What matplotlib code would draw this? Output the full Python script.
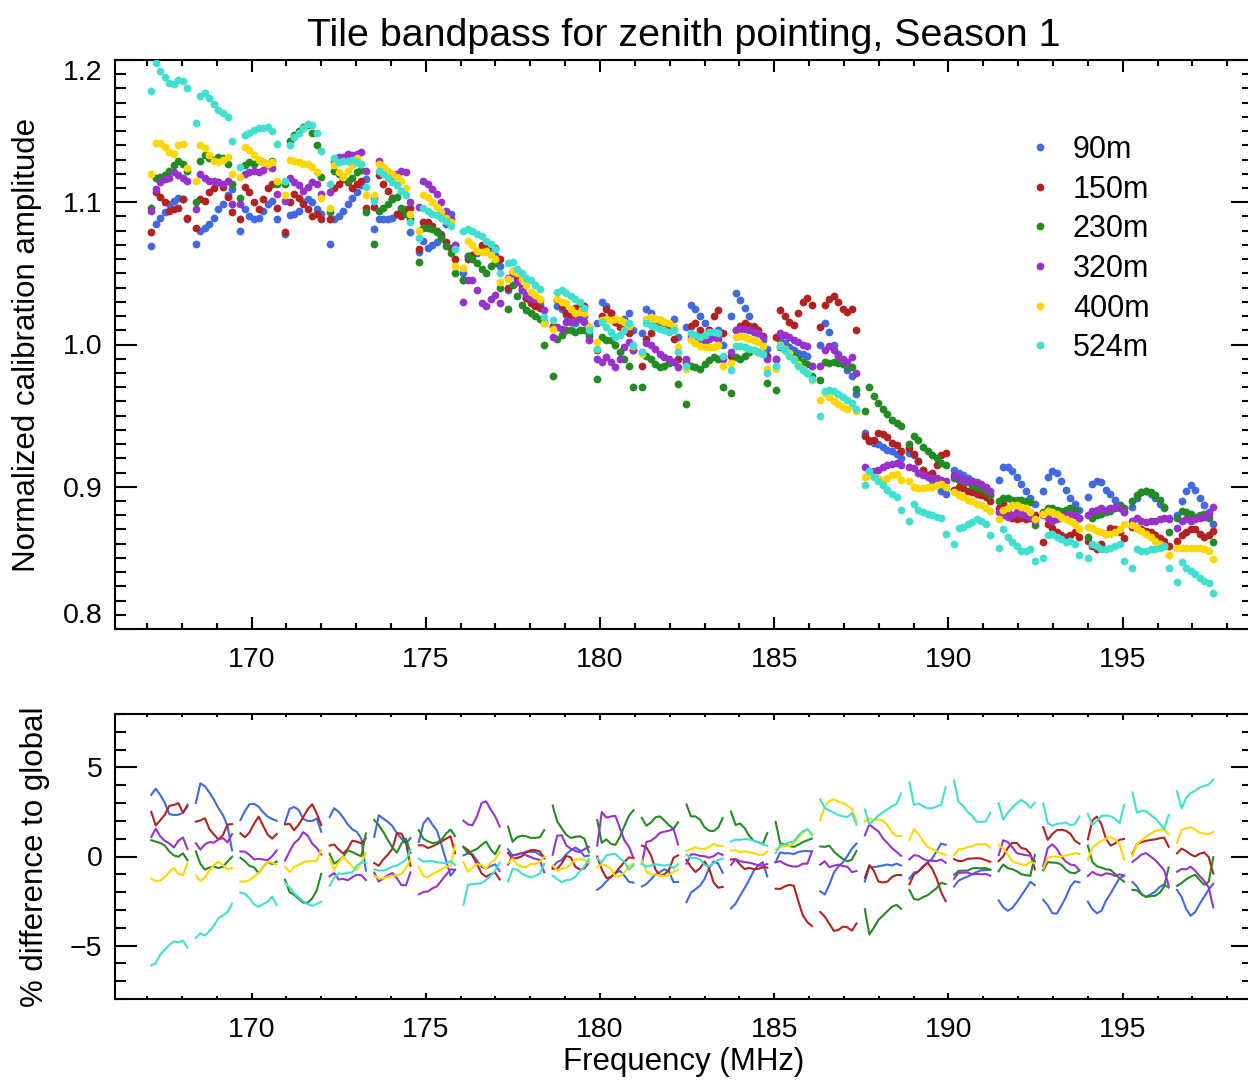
import numpy as np
import matplotlib
matplotlib.use("Agg")
import matplotlib.pyplot as plt
from matplotlib.ticker import MultipleLocator

plt.rcParams['font.family'] = ['Liberation Sans', 'DejaVu Sans']

# ---------------- data ----------------
labels = ["90m", "150m", "230m", "320m", "400m", "524m"]
colors = ["royalblue", "firebrick", "forestgreen", "darkorchid", "gold", "turquoise"]

# coarse-channel centres (MHz) and fine-channel offsets within a coarse channel (MHz)
coarse_centres = [167.64, 168.92, 170.20, 171.48, 172.76, 174.04, 175.32, 176.60,
                  177.88, 179.16, 180.44, 181.72, 183.00, 184.28, 185.56, 186.84,
                  188.12, 189.40, 190.68, 191.96, 193.24, 194.52, 195.80, 197.08]
fine_offsets = [-0.52, -0.39, -0.26, -0.13, 0.0, 0.13, 0.26, 0.39, 0.52]

amp_90m = [
    [1.069, 1.085, 1.089, 1.093, 1.099, 1.101, 1.103, 1.102, 1.088],
    [1.071, 1.080, 1.082, 1.085, 1.089, 1.095, 1.099, 1.105, 1.109],
    [1.080, 1.095, 1.090, 1.088, 1.089, 1.094, 1.099, 1.101, 1.088],
    [1.078, 1.091, 1.092, 1.094, 1.100, 1.102, 1.100, 1.095, 1.092],
    [1.071, 1.088, 1.090, 1.094, 1.099, 1.103, 1.107, 1.112, 1.116],
    [1.081, 1.088, 1.088, 1.088, 1.089, 1.092, 1.093, 1.095, 1.079],
    [1.065, 1.073, 1.068, 1.070, 1.072, 1.078, 1.085, 1.092, 1.070],
    [1.050, 1.062, 1.062, 1.064, 1.066, 1.066, 1.065, 1.063, 1.055],
    [1.038, 1.050, 1.044, 1.038, 1.033, 1.030, 1.028, 1.028, 1.015],
    [1.012, 1.027, 1.025, 1.021, 1.017, 1.015, 1.018, 1.020, 1.008],
    [1.015, 1.030, 1.027, 1.022, 1.016, 1.014, 1.018, 1.022, 1.010],
    [1.008, 1.025, 1.022, 1.018, 1.015, 1.012, 1.013, 1.018, 1.005],
    [1.012, 1.028, 1.025, 1.020, 1.015, 1.010, 1.008, 1.010, 1.000],
    [1.020, 1.036, 1.031, 1.026, 1.020, 1.013, 1.008, 1.003, 0.997],
    [0.990, 1.003, 1.001, 0.998, 0.996, 0.994, 0.993, 0.992, 0.985],
    [1.000, 1.015, 1.009, 1.000, 0.993, 0.988, 0.982, 0.978, 0.965],
    [0.938, 0.933, 0.931, 0.930, 0.928, 0.926, 0.925, 0.923, 0.920],
    [0.924, 0.922, 0.918, 0.912, 0.908, 0.905, 0.901, 0.897, 0.895],
    [0.912, 0.910, 0.908, 0.906, 0.904, 0.902, 0.900, 0.898, 0.894],
    [0.905, 0.914, 0.914, 0.911, 0.907, 0.902, 0.897, 0.892, 0.888],
    [0.897, 0.907, 0.911, 0.910, 0.904, 0.898, 0.892, 0.888, 0.884],
    [0.893, 0.902, 0.904, 0.903, 0.898, 0.895, 0.891, 0.887, 0.882],
    [0.886, 0.892, 0.896, 0.897, 0.895, 0.892, 0.888, 0.885, 0.878],
    [0.880, 0.890, 0.897, 0.901, 0.898, 0.892, 0.887, 0.882, 0.874],
]
amp_150m = [
    [1.079, 1.107, 1.104, 1.100, 1.094, 1.095, 1.096, 1.102, 1.089],
    [1.082, 1.102, 1.101, 1.107, 1.110, 1.114, 1.111, 1.104, 1.093],
    [1.088, 1.111, 1.107, 1.100, 1.095, 1.102, 1.110, 1.113, 1.096],
    [1.079, 1.100, 1.106, 1.103, 1.099, 1.095, 1.090, 1.092, 1.088],
    [1.088, 1.110, 1.113, 1.116, 1.114, 1.110, 1.113, 1.115, 1.096],
    [1.097, 1.119, 1.113, 1.108, 1.103, 1.092, 1.090, 1.094, 1.096],
    [1.067, 1.086, 1.086, 1.083, 1.080, 1.076, 1.072, 1.068, 1.060],
    [1.045, 1.060, 1.063, 1.066, 1.070, 1.071, 1.070, 1.068, 1.060],
    [1.040, 1.052, 1.046, 1.040, 1.033, 1.029, 1.027, 1.026, 1.016],
    [1.013, 1.031, 1.027, 1.022, 1.021, 1.026, 1.029, 1.027, 1.012],
    [0.996, 1.020, 1.025, 1.022, 1.016, 1.012, 1.010, 1.008, 0.996],
    [0.985, 1.004, 1.008, 1.015, 1.017, 1.015, 1.012, 1.004, 0.990],
    [0.988, 1.013, 1.015, 1.010, 1.005, 1.010, 1.020, 1.024, 1.008],
    [0.992, 1.010, 1.013, 1.015, 1.013, 1.012, 1.010, 1.006, 0.992],
    [1.005, 1.024, 1.020, 1.016, 1.014, 1.022, 1.030, 1.033, 1.028],
    [1.012, 1.028, 1.032, 1.034, 1.030, 1.025, 1.023, 1.025, 1.010],
    [0.936, 0.932, 0.933, 0.938, 0.937, 0.935, 0.931, 0.929, 0.925],
    [0.927, 0.923, 0.918, 0.912, 0.908, 0.910, 0.915, 0.922, 0.924],
    [0.898, 0.900, 0.899, 0.897, 0.896, 0.895, 0.894, 0.893, 0.890],
    [0.885, 0.888, 0.882, 0.878, 0.877, 0.878, 0.877, 0.878, 0.880],
    [0.861, 0.874, 0.871, 0.868, 0.866, 0.865, 0.866, 0.868, 0.865],
    [0.862, 0.858, 0.856, 0.860, 0.867, 0.871, 0.870, 0.868, 0.864],
    [0.872, 0.871, 0.870, 0.869, 0.868, 0.866, 0.864, 0.862, 0.858],
    [0.862, 0.866, 0.868, 0.870, 0.870, 0.867, 0.865, 0.866, 0.869],
]
amp_230m = [
    [1.096, 1.117, 1.118, 1.119, 1.122, 1.126, 1.129, 1.127, 1.122],
    [1.100, 1.129, 1.133, 1.131, 1.130, 1.132, 1.131, 1.127, 1.113],
    [1.103, 1.126, 1.128, 1.127, 1.130, 1.128, 1.127, 1.129, 1.113],
    [1.113, 1.143, 1.147, 1.150, 1.153, 1.154, 1.149, 1.140, 1.118],
    [1.093, 1.122, 1.120, 1.118, 1.115, 1.117, 1.121, 1.123, 1.093],
    [1.071, 1.094, 1.096, 1.099, 1.102, 1.104, 1.096, 1.092, 1.088],
    [1.058, 1.082, 1.082, 1.081, 1.079, 1.075, 1.069, 1.064, 1.050],
    [1.045, 1.062, 1.060, 1.057, 1.053, 1.050, 1.055, 1.057, 1.040],
    [1.025, 1.042, 1.034, 1.028, 1.024, 1.022, 1.020, 1.018, 1.000],
    [0.978, 1.004, 1.007, 1.010, 1.010, 1.009, 1.010, 1.010, 1.006],
    [0.976, 1.005, 1.003, 1.003, 1.000, 0.995, 0.990, 0.985, 0.970],
    [0.970, 0.992, 0.990, 0.986, 0.984, 0.985, 0.987, 0.988, 0.972],
    [0.958, 0.985, 0.984, 0.983, 0.986, 0.989, 0.991, 0.990, 0.970],
    [0.966, 0.991, 0.990, 0.992, 0.995, 0.996, 0.995, 0.993, 0.973],
    [0.968, 0.998, 0.996, 0.994, 0.992, 0.990, 0.988, 0.986, 0.978],
    [0.975, 0.988, 0.987, 0.988, 0.987, 0.986, 0.985, 0.984, 0.969],
    [0.953, 0.970, 0.964, 0.959, 0.955, 0.951, 0.947, 0.945, 0.943],
    [0.930, 0.936, 0.933, 0.928, 0.925, 0.922, 0.920, 0.917, 0.915],
    [0.906, 0.905, 0.904, 0.903, 0.901, 0.900, 0.899, 0.897, 0.894],
    [0.890, 0.892, 0.892, 0.891, 0.891, 0.891, 0.890, 0.889, 0.873],
    [0.882, 0.885, 0.885, 0.884, 0.883, 0.884, 0.885, 0.884, 0.878],
    [0.865, 0.878, 0.880, 0.881, 0.882, 0.883, 0.885, 0.887, 0.885],
    [0.890, 0.894, 0.896, 0.897, 0.896, 0.894, 0.891, 0.886, 0.868],
    [0.878, 0.883, 0.882, 0.881, 0.879, 0.880, 0.881, 0.878, 0.861],
]
amp_320m = [
    [1.094, 1.109, 1.114, 1.116, 1.117, 1.121, 1.119, 1.117, 1.115],
    [1.095, 1.120, 1.117, 1.115, 1.115, 1.114, 1.113, 1.115, 1.099],
    [1.099, 1.120, 1.121, 1.122, 1.121, 1.123, 1.126, 1.124, 1.106],
    [1.101, 1.117, 1.114, 1.112, 1.108, 1.111, 1.114, 1.113, 1.106],
    [1.107, 1.128, 1.132, 1.132, 1.134, 1.133, 1.134, 1.135, 1.122],
    [1.103, 1.129, 1.125, 1.121, 1.118, 1.120, 1.122, 1.121, 1.100],
    [1.097, 1.115, 1.113, 1.109, 1.106, 1.100, 1.094, 1.088, 1.070],
    [1.030, 1.045, 1.045, 1.038, 1.029, 1.027, 1.032, 1.035, 1.029],
    [1.047, 1.050, 1.044, 1.038, 1.035, 1.033, 1.032, 1.031, 1.024],
    [1.005, 1.012, 1.011, 1.016, 1.016, 1.017, 1.019, 1.016, 1.003],
    [0.990, 0.988, 0.991, 0.988, 0.984, 0.990, 0.998, 1.002, 0.996],
    [0.995, 1.001, 1.000, 0.997, 0.993, 0.991, 0.990, 0.988, 0.984],
    [0.990, 1.006, 1.005, 1.003, 1.002, 1.004, 1.005, 1.004, 0.990],
    [0.995, 1.010, 1.011, 1.011, 1.010, 1.009, 1.008, 1.005, 0.990],
    [0.990, 1.008, 1.007, 1.005, 1.003, 1.002, 1.000, 0.999, 0.985],
    [0.985, 0.996, 0.999, 0.996, 0.992, 0.990, 0.988, 0.991, 0.980],
    [0.914, 0.911, 0.911, 0.912, 0.914, 0.915, 0.916, 0.917, 0.915],
    [0.914, 0.913, 0.910, 0.908, 0.907, 0.906, 0.906, 0.905, 0.904],
    [0.908, 0.906, 0.905, 0.904, 0.904, 0.903, 0.902, 0.900, 0.897],
    [0.882, 0.880, 0.879, 0.880, 0.882, 0.881, 0.880, 0.879, 0.876],
    [0.880, 0.878, 0.876, 0.877, 0.879, 0.880, 0.881, 0.880, 0.878],
    [0.880, 0.883, 0.884, 0.885, 0.884, 0.885, 0.886, 0.885, 0.882],
    [0.876, 0.878, 0.876, 0.875, 0.876, 0.876, 0.877, 0.878, 0.877],
    [0.871, 0.876, 0.877, 0.876, 0.877, 0.878, 0.879, 0.881, 0.886],
]
amp_400m = [
    [1.120, 1.142, 1.142, 1.139, 1.135, 1.134, 1.140, 1.141, 1.124],
    [1.115, 1.140, 1.138, 1.133, 1.129, 1.128, 1.130, 1.132, 1.120],
    [1.118, 1.139, 1.137, 1.133, 1.130, 1.128, 1.127, 1.128, 1.115],
    [1.105, 1.130, 1.129, 1.128, 1.127, 1.127, 1.125, 1.121, 1.103],
    [1.096, 1.126, 1.121, 1.118, 1.122, 1.126, 1.131, 1.127, 1.105],
    [1.105, 1.127, 1.125, 1.122, 1.120, 1.118, 1.115, 1.110, 1.092],
    [1.080, 1.105, 1.104, 1.100, 1.097, 1.093, 1.089, 1.086, 1.055],
    [1.054, 1.073, 1.070, 1.066, 1.065, 1.066, 1.063, 1.060, 1.044],
    [1.046, 1.052, 1.050, 1.046, 1.042, 1.037, 1.035, 1.032, 1.015],
    [1.011, 1.032, 1.030, 1.029, 1.025, 1.022, 1.023, 1.022, 1.012],
    [1.002, 1.017, 1.018, 1.017, 1.018, 1.017, 1.016, 1.013, 0.999],
    [0.993, 1.018, 1.019, 1.018, 1.017, 1.016, 1.015, 1.012, 0.998],
    [0.983, 1.003, 1.001, 0.999, 0.998, 0.998, 0.998, 1.000, 0.985],
    [0.987, 1.005, 1.006, 1.005, 1.004, 1.003, 1.002, 0.999, 0.983],
    [0.983, 1.000, 0.997, 0.994, 0.990, 0.986, 0.983, 0.980, 0.975],
    [0.961, 0.966, 0.963, 0.960, 0.958, 0.956, 0.955, 0.957, 0.953],
    [0.907, 0.908, 0.907, 0.906, 0.905, 0.906, 0.908, 0.909, 0.905],
    [0.904, 0.900, 0.899, 0.899, 0.900, 0.900, 0.901, 0.902, 0.900],
    [0.896, 0.894, 0.893, 0.891, 0.890, 0.888, 0.887, 0.885, 0.883],
    [0.877, 0.884, 0.885, 0.887, 0.887, 0.886, 0.885, 0.882, 0.877],
    [0.881, 0.883, 0.882, 0.881, 0.879, 0.877, 0.876, 0.874, 0.870],
    [0.872, 0.871, 0.869, 0.868, 0.867, 0.867, 0.868, 0.870, 0.874],
    [0.873, 0.871, 0.869, 0.867, 0.865, 0.862, 0.860, 0.858, 0.852],
    [0.857, 0.857, 0.857, 0.857, 0.857, 0.857, 0.856, 0.855, 0.849],
]
amp_524m = [
    [1.178, 1.198, 1.192, 1.188, 1.184, 1.183, 1.186, 1.185, 1.180],
    [1.156, 1.175, 1.177, 1.173, 1.169, 1.165, 1.163, 1.160, 1.143],
    [1.125, 1.147, 1.149, 1.151, 1.152, 1.152, 1.153, 1.150, 1.141],
    [1.115, 1.140, 1.146, 1.149, 1.152, 1.155, 1.154, 1.149, 1.136],
    [1.113, 1.131, 1.128, 1.129, 1.129, 1.130, 1.128, 1.127, 1.111],
    [1.101, 1.122, 1.120, 1.117, 1.114, 1.112, 1.108, 1.105, 1.086],
    [1.075, 1.096, 1.094, 1.092, 1.091, 1.089, 1.087, 1.083, 1.067],
    [1.080, 1.081, 1.080, 1.078, 1.076, 1.073, 1.071, 1.067, 1.050],
    [1.057, 1.058, 1.053, 1.050, 1.047, 1.045, 1.042, 1.039, 1.019],
    [1.017, 1.037, 1.038, 1.036, 1.034, 1.032, 1.030, 1.026, 1.010],
    [0.997, 1.016, 1.012, 1.009, 1.005, 1.007, 1.010, 1.015, 1.000],
    [0.995, 1.015, 1.014, 1.012, 1.011, 1.010, 1.009, 1.010, 0.995],
    [0.985, 1.008, 1.007, 1.005, 1.007, 1.009, 1.009, 1.008, 0.992],
    [0.982, 0.999, 0.999, 0.998, 0.997, 0.996, 0.995, 0.993, 0.980],
    [0.985, 0.999, 0.996, 0.992, 0.989, 0.985, 0.982, 0.980, 0.976],
    [0.950, 0.967, 0.968, 0.967, 0.965, 0.963, 0.961, 0.959, 0.955],
    [0.901, 0.911, 0.907, 0.904, 0.901, 0.898, 0.895, 0.893, 0.884],
    [0.876, 0.888, 0.884, 0.882, 0.881, 0.880, 0.879, 0.878, 0.867],
    [0.860, 0.871, 0.872, 0.874, 0.875, 0.877, 0.876, 0.874, 0.866],
    [0.857, 0.870, 0.865, 0.861, 0.858, 0.855, 0.855, 0.856, 0.848],
    [0.850, 0.866, 0.867, 0.865, 0.863, 0.861, 0.862, 0.860, 0.852],
    [0.850, 0.860, 0.858, 0.856, 0.856, 0.857, 0.858, 0.860, 0.848],
    [0.843, 0.856, 0.855, 0.855, 0.856, 0.856, 0.857, 0.858, 0.843],
    [0.833, 0.847, 0.843, 0.841, 0.839, 0.836, 0.834, 0.832, 0.825],
]
series = [amp_90m, amp_150m, amp_230m, amp_320m, amp_400m, amp_524m]

xticks = [170, 175, 180, 185, 190, 195]
yticks_top = [0.8, 0.9, 1.0, 1.1, 1.2]
yticks_bot = [-5, 0, 5]

# ---------------- derived arrays ----------------
freq = np.array(coarse_centres)[:, None] + np.array(fine_offsets)[None, :]   # (24, 9)
amps = np.array(series, dtype=float)                                          # (6, 24, 9)
global_bp = amps.mean(axis=0)
pct = (global_bp[None] / amps - 1.0) * 100.0


def with_gaps(a):
    """append a NaN after every coarse channel so lines break between channels"""
    a = np.asarray(a, dtype=float)
    pad = np.full(a.shape[:-1] + (1,), np.nan)
    return np.concatenate([a, pad], axis=-1).reshape(a.shape[:-2] + (-1,))


freq_gap = with_gaps(freq)

# ---------------- figure ----------------
W, H = 1248, 1080
fig = plt.figure(figsize=(W / 100, H / 100), dpi=100)

L, R = 115, 1253
ax1 = fig.add_axes([L / W, 1 - 629 / H, (R - L) / W, (629 - 60) / H])
ax2 = fig.add_axes([L / W, 1 - 999 / H, (R - L) / W, (999 - 714) / H])

MS = 5.6
for vals, c in zip(amps, colors):
    ax1.plot(freq.ravel(), vals.ravel(), 'o', ms=MS, mew=0, color=c, zorder=3)
for vals, c in zip(pct, colors):
    ax2.plot(freq_gap, with_gaps(vals), '-', lw=1.5, color=c, zorder=3)

xlim = (166.08, 198.74)
for ax in (ax1, ax2):
    ax.set_xlim(*xlim)
    ax.set_xticks(xticks)
    ax.xaxis.set_minor_locator(MultipleLocator(1))
    for sp in ax.spines.values():
        sp.set_linewidth(1.5)
    ax.tick_params(which='both', direction='in', top=True, right=True,
                   width=1.5, labelsize=20.5, color='black')

ax1.set_ylim(0.8, 1.2)
ax1.set_yticks(yticks_top)
ax1.set_yticklabels(['%.1f' % v for v in yticks_top])
ax1.yaxis.set_minor_locator(MultipleLocator(0.01))
ax1.tick_params(axis='x', which='major', length=8.4, pad=13)
ax1.tick_params(axis='x', which='minor', length=4.2)
ax1.tick_params(axis='y', which='major', length=16, pad=9)
ax1.tick_params(axis='y', which='minor', length=8)
yt = ax1.yaxis.get_major_ticks()
yt[0].label1.set_va('bottom')
yt[-1].label1.set_va('top')

ax2.set_ylim(-8, 8)
ax2.set_yticks(yticks_bot)
ax2.yaxis.set_minor_locator(MultipleLocator(1))
ax2.tick_params(axis='x', which='major', length=4.2, pad=13)
ax2.tick_params(axis='x', which='minor', length=2.1)
ax2.tick_params(axis='y', which='major', length=16, pad=9)
ax2.tick_params(axis='y', which='minor', length=8)

ax1.set_title("Tile bandpass for zenith pointing, Season 1", fontsize=28.4, pad=10)
ax1.set_ylabel("Normalized calibration amplitude", fontsize=22.5)
ax1.yaxis.label.set_va('center')
ax1.yaxis.set_label_coords((27 - L) / (R - L), 0.5)
ax2.set_ylabel("% difference to global", fontsize=22.5)
ax2.yaxis.label.set_va('center')
ax2.yaxis.set_label_coords((35 - L) / (R - L), 0.5)
ax2.set_xlabel("Frequency (MHz)", fontsize=22.5)
ax2.xaxis.label.set_va('center')
ax2.xaxis.set_label_coords(0.5, -(1062 - 999) / (999 - 714))

# legend (drawn by hand to match the original layout)
leg_y = [147, 187, 226, 266, 306, 345]
for lab, c, yy in zip(labels, colors, leg_y):
    fy = (629 - yy) / (629 - 60)
    ax1.plot([(1040 - L) / (R - L)], [fy], 'o', ms=MS, mew=0, color=c,
             transform=ax1.transAxes, clip_on=False)
    ax1.text((1073 - L) / (R - L), (629 - yy - 3) / (629 - 60), lab,
             transform=ax1.transAxes, fontsize=22, va='center', ha='left')

fig.savefig("out.png", dpi=100)
